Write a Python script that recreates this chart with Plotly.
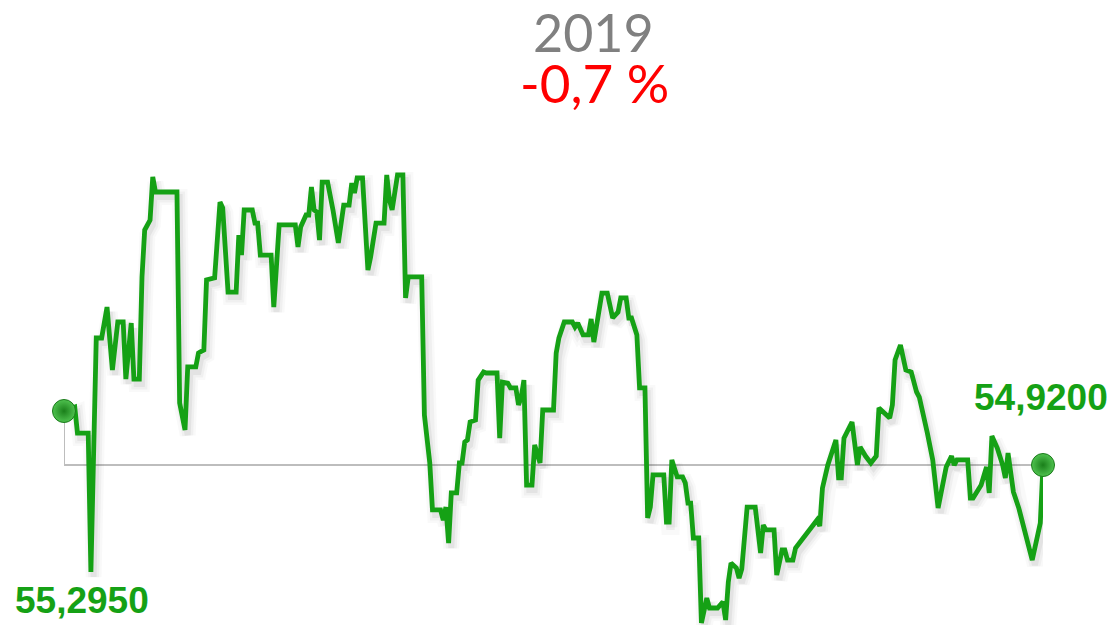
import pandas as pd
import plotly.graph_objects as go

# Day offsets within 2019 and the closing rate on each of those days
days = [0, 4, 5, 9, 10, 12, 14, 16, 18, 20, 22, 23, 25, 26, 28, 29, 30, 32, 33, 34,
        42, 43, 45, 46, 49, 50, 52, 53, 56, 58, 59, 61, 64, 65, 66, 67, 70, 71, 72, 73,
        77, 78, 80, 86, 87, 88, 90, 91, 92, 93, 94, 95, 96, 98, 100, 102, 104, 106, 107, 108,
        109, 111, 113, 114, 116, 119, 120, 121, 122, 124, 126, 127, 128, 133, 134, 135, 136, 137, 140, 141,
        142, 143, 144, 146, 147, 148, 149, 150, 151, 153, 154, 156, 157, 161, 162, 163, 165, 166, 168, 169,
        170, 171, 172, 174, 175, 177, 178, 182, 183, 184, 186, 189, 190, 191, 193, 195, 196, 197, 200, 202,
        204, 206, 207, 209, 210, 211, 213, 214, 216, 217, 218, 219, 223, 224, 225, 226, 228, 230, 231, 232,
        233, 234, 236, 237, 239, 240, 243, 245, 246, 247, 248, 250, 251, 252, 254, 257, 259, 260, 261, 264,
        265, 267, 268, 269, 271, 272, 280, 281, 282, 284, 287, 288, 289, 290, 293, 295, 296, 298, 300, 302,
        303, 307, 308, 309, 311, 313, 315, 317, 318, 321, 323, 325, 328, 330, 331, 332, 336, 337, 338, 341,
        342, 343, 344, 345, 347, 349, 350, 351, 353, 355, 360, 363, 364]

rates = [55.295, 55.323, 55.142, 55.142, 54.177, 55.802, 55.802, 56.017, 55.580, 55.913,
         55.913, 55.517, 55.906, 55.517, 55.517, 56.226, 56.552, 56.621, 56.920, 56.816,
         56.816, 55.351, 55.163, 55.601, 55.601, 55.698, 55.719, 56.205, 56.219, 56.746,
         56.705, 56.121, 56.121, 56.517, 56.378, 56.691, 56.691, 56.600, 56.600, 56.378,
         56.378, 56.017, 56.587, 56.587, 56.434, 56.573, 56.656, 56.656, 56.850, 56.691,
         56.677, 56.482, 56.885, 56.885, 56.691, 56.462, 56.725, 56.725, 56.878, 56.809,
         56.913, 56.913, 56.274, 56.364, 56.600, 56.600, 56.934, 56.760, 56.691, 56.934,
         56.934, 56.080, 56.226, 56.226, 55.267, 55.073, 54.934, 54.608, 54.608, 54.538,
         54.628, 54.378, 54.726, 54.726, 54.934, 54.934, 55.080, 55.094, 55.219, 55.232,
         55.510, 55.566, 55.559, 55.559, 55.107, 55.496, 55.489, 55.455, 55.455, 55.337,
         55.392, 55.510, 54.781, 54.781, 55.059, 54.934, 55.302, 55.302, 55.698, 55.802,
         55.913, 55.913, 55.878, 55.906, 55.823, 55.823, 55.934, 55.774, 56.114, 56.114,
         55.941, 55.982, 56.080, 56.080, 55.941, 55.941, 55.823, 55.455, 55.455, 54.552,
         54.628, 54.851, 54.851, 54.524, 54.524, 54.955, 54.837, 54.837, 54.795, 54.656,
         54.656, 54.413, 54.413, 53.823, 53.996, 53.927, 53.927, 53.969, 53.844, 54.108,
         54.239, 54.205, 54.135, 54.198, 54.628, 54.628, 54.309, 54.503, 54.469, 54.469,
         54.156, 54.330, 54.330, 54.260, 54.260, 54.344, 54.538, 54.496, 54.760, 54.920,
         55.094, 54.830, 54.830, 55.107, 55.219, 54.920, 55.045, 54.982, 54.934, 54.982,
         55.316, 55.246, 55.337, 55.649, 55.753, 55.580, 55.566, 55.427, 55.392, 55.142,
         54.955, 54.621, 54.906, 54.982, 54.920, 54.955, 54.955, 54.691, 54.691, 54.781,
         54.851, 54.906, 54.726, 55.121, 55.038, 54.920, 54.830, 55.003, 54.733, 54.621,
         54.260, 54.517, 54.920]

year_label = "2019"
start_label = "55,2950"
end_label = "54,9200"

dates = pd.Timestamp("2019-01-01") + pd.to_timedelta(days, unit="D")
start_val, end_val = rates[0], rates[-1]
change_pct = (end_val / start_val - 1) * 100
change_label = f"{change_pct:.1f} %".replace(".", ",")

GREEN = "#15a115"

fig = go.Figure()

# Reference line at the closing level, with a drop from the opening point
fig.add_trace(go.Scatter(
    x=[dates[0], dates[0], dates[-1]], y=[start_val, end_val, end_val],
    mode="lines", line=dict(color="#bdbdbd", width=2), hoverinfo="skip"))

# Soft shadow under the rate line
for w, a in [(16, 0.025), (11, 0.035), (6, 0.05)]:
    fig.add_trace(go.Scatter(
        x=dates + pd.Timedelta(days=1), y=[r - 0.035 for r in rates],
        mode="lines", line=dict(color=f"rgba(0,0,0,{a})", width=w),
        hoverinfo="skip"))

# Rate line
fig.add_trace(go.Scatter(
    x=dates, y=rates, mode="lines",
    line=dict(color=GREEN, width=4.8, shape="linear")))

# Ball markers at the first and last points
fig.add_trace(go.Scatter(
    x=[dates[0], dates[-1]], y=[start_val, end_val], mode="markers",
    marker=dict(size=23, color="#4fc24f",
                gradient=dict(type="radial", color="#1a7f1a"),
                line=dict(width=1, color="#1b7a1b")),
    cliponaxis=False))

fig.update_layout(
    width=1116, height=625,
    margin=dict(l=64, r=73, t=150, b=0),
    paper_bgcolor="white", plot_bgcolor="white",
    showlegend=False,
    xaxis=dict(visible=False, range=[dates[0], dates[-1]]),
    yaxis=dict(visible=False, range=[53.809, 57.1075]),
    annotations=[
        dict(text=year_label, xref="paper", yref="paper", x=0.541, y=1.248,
             showarrow=False, xanchor="center", yanchor="middle", height=46,
             font=dict(family="Lato", size=52, color="#808080")),
        dict(text=change_label, xref="paper", yref="paper", x=0.542, y=1.143,
             showarrow=False, xanchor="center", yanchor="middle", height=56,
             font=dict(family="Lato", size=53, color="#ff0000")),
        dict(text=f"<b>{start_label}</b>", xref="paper", yref="paper",
             x=(82 - 64) / 979, y=(625 - 600) / 475, showarrow=False,
             xanchor="center", yanchor="middle",
             font=dict(family="Liberation Sans", size=37, color=GREEN)),
        dict(text=f"<b>{end_label}</b>", xref="paper", yref="paper",
             x=(1041 - 64) / 979, y=(625 - 397) / 475, showarrow=False,
             xanchor="center", yanchor="middle",
             font=dict(family="Liberation Sans", size=37, color=GREEN)),
    ],
)

fig.write_html("out.html")
